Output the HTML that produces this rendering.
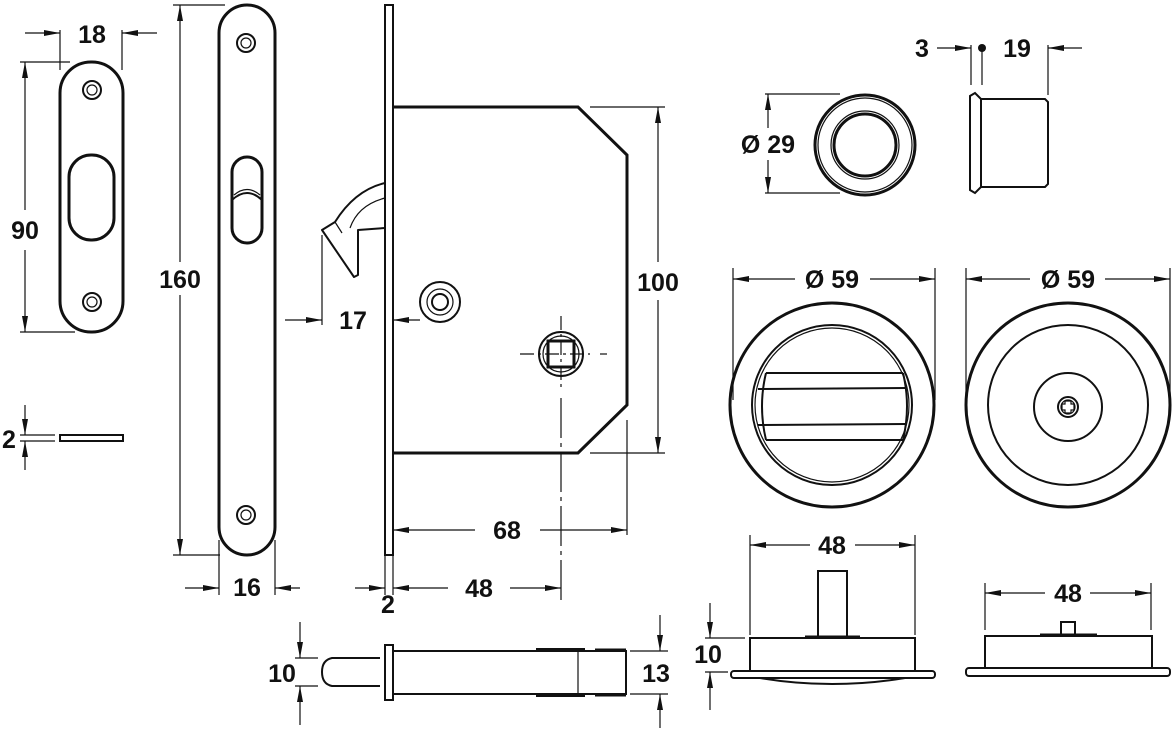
<!DOCTYPE html>
<html><head><meta charset="utf-8"><style>
html,body{margin:0;padding:0;background:#fff}
svg{display:block}
text{font-family:"Liberation Sans",Arial,sans-serif;font-weight:bold;font-size:25px;fill:#111;text-anchor:middle}
.s{fill:none;stroke:#111;stroke-width:3}
.m{fill:none;stroke:#111;stroke-width:2}
.t{fill:none;stroke:#111;stroke-width:1.2}
.d{stroke:#111;stroke-width:1.2;fill:none}
</style></head><body>
<svg width="1173" height="730" viewBox="0 0 1173 730" xmlns="http://www.w3.org/2000/svg">
<defs>
<marker id="a" viewBox="0 0 16 8" refX="16" refY="4" markerWidth="16" markerHeight="8" markerUnits="userSpaceOnUse" orient="auto"><path d="M0,1 L16,4 L0,7 Z" fill="#111"/></marker>
</defs>

<!-- small strike plate -->
<rect x="60" y="62" width="63" height="270" rx="31" class="s"/>
<circle cx="92" cy="90" r="9" class="m"/><circle cx="92" cy="90" r="5" class="t"/>
<circle cx="92" cy="302" r="9" class="m"/><circle cx="92" cy="302" r="5" class="t"/>
<rect x="69" y="155" width="45" height="85" rx="22" class="s"/>
<line x1="60" y1="30" x2="60" y2="70" class="d"/><line x1="122" y1="30" x2="122" y2="70" class="d"/>
<line x1="25" y1="33" x2="60" y2="33" class="d" marker-end="url(#a)"/>
<line x1="157" y1="33" x2="122" y2="33" class="d" marker-end="url(#a)"/>
<text x="92" y="43">18</text>
<line x1="20" y1="62" x2="70" y2="62" class="d"/><line x1="20" y1="332" x2="75" y2="332" class="d"/>
<line x1="25" y1="210" x2="25" y2="62" class="d" marker-end="url(#a)"/>
<line x1="25" y1="250" x2="25" y2="332" class="d" marker-end="url(#a)"/>
<text x="25" y="239">90</text>
<rect x="60" y="435" width="63" height="6" class="m"/>
<line x1="20" y1="435" x2="55" y2="435" class="d"/><line x1="20" y1="441" x2="55" y2="441" class="d"/>
<line x1="25" y1="405" x2="25" y2="435" class="d" marker-end="url(#a)"/>
<line x1="25" y1="470" x2="25" y2="441" class="d" marker-end="url(#a)"/>
<text x="9" y="448">2</text>

<!-- long plate -->
<rect x="219" y="5" width="56" height="550" rx="28" class="s"/>
<circle cx="246" cy="43" r="9" class="m"/><circle cx="246" cy="43" r="5" class="t"/>
<circle cx="246" cy="515" r="9" class="m"/><circle cx="246" cy="515" r="5" class="t"/>
<rect x="232" y="157" width="30" height="86" rx="15" class="s"/>
<path d="M232,200 Q247,186 262,200" class="m"/><path d="M234,195 Q247,184 260,195" class="t"/>
<line x1="173" y1="5" x2="225" y2="5" class="d"/><line x1="173" y1="555" x2="220" y2="555" class="d"/>
<line x1="180" y1="262" x2="180" y2="5" class="d" marker-end="url(#a)"/>
<line x1="180" y1="295" x2="180" y2="555" class="d" marker-end="url(#a)"/>
<text x="180" y="288">160</text>
<line x1="219" y1="540" x2="219" y2="595" class="d"/><line x1="275" y1="540" x2="275" y2="595" class="d"/>
<line x1="185" y1="588" x2="219" y2="588" class="d" marker-end="url(#a)"/>
<line x1="300" y1="588" x2="275" y2="588" class="d" marker-end="url(#a)"/>
<text x="247" y="596">16</text>

<!-- lock body -->
<rect x="385" y="5" width="8" height="550" class="m"/>
<path d="M393,107 L578,107 L627,155 L627,405 L578,453 L393,453" class="s"/>
<path d="M385,183 Q355,190 335,222 L322,230 L354,277 L358,275 L358,230 L385,228" class="m" stroke-linejoin="round"/>
<path d="M385,198 Q358,205 350,228" class="t"/><path d="M335,222 L342,233" class="t"/>
<circle cx="440" cy="302" r="20" class="m"/><circle cx="440" cy="302" r="13" class="t"/><circle cx="440" cy="302" r="8" class="m"/>
<circle cx="561" cy="354" r="22" class="m"/><circle cx="561" cy="354" r="18" class="t"/>
<rect x="548" y="341" width="26" height="26" class="s"/>
<line x1="520" y1="354" x2="590" y2="354" class="d" stroke-dasharray="14,4,3,4"/>
<line x1="600" y1="354" x2="607" y2="354" class="d"/>
<line x1="561" y1="316" x2="561" y2="390" class="d" stroke-dasharray="14,4,3,4"/>
<line x1="561" y1="398" x2="561" y2="600" class="d" stroke-dasharray="40,5,4,5"/>
<line x1="590" y1="107" x2="665" y2="107" class="d"/><line x1="590" y1="453" x2="665" y2="453" class="d"/>
<line x1="658" y1="262" x2="658" y2="107" class="d" marker-end="url(#a)"/>
<line x1="658" y1="300" x2="658" y2="453" class="d" marker-end="url(#a)"/>
<text x="658" y="291">100</text>
<line x1="322" y1="235" x2="322" y2="325" class="d"/>
<line x1="285" y1="320" x2="322" y2="320" class="d" marker-end="url(#a)"/>
<line x1="420" y1="320" x2="393" y2="320" class="d" marker-end="url(#a)"/>
<text x="353" y="329">17</text>
<line x1="627" y1="420" x2="627" y2="535" class="d"/>
<line x1="475" y1="530" x2="393" y2="530" class="d" marker-end="url(#a)"/>
<line x1="540" y1="530" x2="627" y2="530" class="d" marker-end="url(#a)"/>
<text x="507" y="539">68</text>
<line x1="385" y1="555" x2="385" y2="595" class="d"/><line x1="393" y1="555" x2="393" y2="595" class="d"/>
<line x1="355" y1="588" x2="385" y2="588" class="d" marker-end="url(#a)"/>
<line x1="448" y1="588" x2="393" y2="588" class="d" marker-end="url(#a)"/>
<line x1="510" y1="588" x2="561" y2="588" class="d" marker-end="url(#a)"/>
<text x="479" y="597">48</text>
<text x="388" y="613">2</text>

<!-- bottom bolt -->
<path d="M380,658 L332,658 Q322,660 322,672 Q322,684 332,686 L380,686" class="m"/>
<rect x="385" y="645" width="8" height="55" class="m"/>
<path d="M393,651 L626,651 L626,694 L393,694" class="m"/>
<line x1="578" y1="651" x2="578" y2="694" class="t"/>
<line x1="536" y1="650" x2="585" y2="650" stroke="#111" stroke-width="4"/><line x1="536" y1="695" x2="585" y2="695" stroke="#111" stroke-width="4"/>
<line x1="595" y1="650" x2="626" y2="650" stroke="#111" stroke-width="3"/><line x1="595" y1="695" x2="626" y2="695" stroke="#111" stroke-width="3"/>
<line x1="295" y1="658" x2="318" y2="658" class="d"/><line x1="295" y1="686" x2="318" y2="686" class="d"/>
<line x1="300" y1="622" x2="300" y2="658" class="d" marker-end="url(#a)"/>
<line x1="300" y1="725" x2="300" y2="686" class="d" marker-end="url(#a)"/>
<text x="282" y="682">10</text>
<line x1="630" y1="651" x2="668" y2="651" class="d"/><line x1="630" y1="694" x2="668" y2="694" class="d"/>
<line x1="660" y1="615" x2="660" y2="651" class="d" marker-end="url(#a)"/>
<line x1="660" y1="728" x2="660" y2="694" class="d" marker-end="url(#a)"/>
<text x="656" y="682">13</text>

<!-- Ø29 -->
<circle cx="865" cy="145" r="50" class="s"/><circle cx="865" cy="145" r="47" class="t"/>
<circle cx="865" cy="145" r="34" class="t"/><circle cx="865" cy="145" r="31" class="s"/>
<line x1="765" y1="94" x2="840" y2="94" class="d"/><line x1="765" y1="193" x2="840" y2="193" class="d"/>
<line x1="768" y1="128" x2="768" y2="94" class="d" marker-end="url(#a)"/>
<line x1="768" y1="160" x2="768" y2="193" class="d" marker-end="url(#a)"/>
<text x="768" y="153">Ø 29</text>

<!-- cylinder side -->
<path d="M981,99 L975,93 L970,96 L970,190 L975,193 L981,187 Z" class="m"/>
<path d="M981,99 L1045,99 L1048,102 L1048,184 L1045,187 L981,187" class="m"/>
<line x1="971" y1="45" x2="971" y2="85" class="d"/><line x1="982" y1="45" x2="982" y2="85" class="d"/>
<line x1="1048" y1="45" x2="1048" y2="95" class="d"/>
<line x1="937" y1="48" x2="971" y2="48" class="d" marker-end="url(#a)"/>
<line x1="1082" y1="48" x2="1048" y2="48" class="d" marker-end="url(#a)"/>
<circle cx="982" cy="48" r="4" fill="#111"/>
<text x="922" y="57">3</text><text x="1017" y="57">19</text>

<!-- left escutcheon -->
<circle cx="832" cy="405" r="102" class="s"/><circle cx="832" cy="405" r="80" class="m"/><circle cx="832" cy="405" r="77" class="t"/>
<path d="M766,373 L903,373 M758,389 L906,388 M758,425 L906,424 M766,440 L903,440" class="m"/>
<path d="M766,373 Q758,406 766,440 M903,373 Q911,406 903,440" class="m"/>
<line x1="733" y1="268" x2="733" y2="400" class="d"/><line x1="935" y1="268" x2="935" y2="400" class="d"/>
<line x1="795" y1="279" x2="733" y2="279" class="d" marker-end="url(#a)"/>
<line x1="870" y1="279" x2="935" y2="279" class="d" marker-end="url(#a)"/>
<text x="832" y="288">Ø 59</text>

<!-- right escutcheon -->
<circle cx="1068" cy="405" r="102" class="s"/><circle cx="1068" cy="405" r="80" class="m"/>
<circle cx="1068" cy="407" r="34" class="m"/>
<circle cx="1068" cy="407" r="10" class="m"/><circle cx="1068" cy="407" r="7" class="t"/>
<path d="M1065,401 h6 v3 h3 v6 h-3 v3 h-6 v-3 h-3 v-6 h3 z" class="t"/>
<line x1="966" y1="268" x2="966" y2="400" class="d"/><line x1="1170" y1="268" x2="1170" y2="400" class="d"/>
<line x1="1030" y1="279" x2="966" y2="279" class="d" marker-end="url(#a)"/>
<line x1="1105" y1="279" x2="1170" y2="279" class="d" marker-end="url(#a)"/>
<text x="1068" y="288">Ø 59</text>

<!-- left side view -->
<rect x="818" y="571" width="29" height="67" class="m"/>
<line x1="805" y1="637" x2="860" y2="637" stroke="#111" stroke-width="3"/>
<rect x="750" y="638" width="165" height="33" class="m"/>
<rect x="731" y="671" width="204" height="7" rx="3" class="m"/>
<path d="M760,678 Q832,690 905,678" class="m"/>
<line x1="750" y1="535" x2="750" y2="635" class="d"/><line x1="915" y1="535" x2="915" y2="635" class="d"/>
<line x1="810" y1="545" x2="750" y2="545" class="d" marker-end="url(#a)"/>
<line x1="855" y1="545" x2="915" y2="545" class="d" marker-end="url(#a)"/>
<text x="832" y="554">48</text>
<line x1="705" y1="638" x2="745" y2="638" class="d"/><line x1="705" y1="672" x2="728" y2="672" class="d"/>
<line x1="710" y1="603" x2="710" y2="638" class="d" marker-end="url(#a)"/>
<line x1="710" y1="710" x2="710" y2="672" class="d" marker-end="url(#a)"/>
<text x="708" y="663">10</text>

<!-- right side view -->
<rect x="1061" y="622" width="14" height="14" class="m"/>
<line x1="1040" y1="635" x2="1097" y2="635" stroke="#111" stroke-width="3"/>
<rect x="985" y="636" width="167" height="32" class="m"/>
<rect x="966" y="668" width="204" height="8" rx="3" class="m"/>
<line x1="985" y1="583" x2="985" y2="630" class="d"/><line x1="1151" y1="583" x2="1151" y2="630" class="d"/>
<line x1="1045" y1="593" x2="985" y2="593" class="d" marker-end="url(#a)"/>
<line x1="1090" y1="593" x2="1151" y2="593" class="d" marker-end="url(#a)"/>
<text x="1068" y="602">48</text>
</svg>
</body></html>
